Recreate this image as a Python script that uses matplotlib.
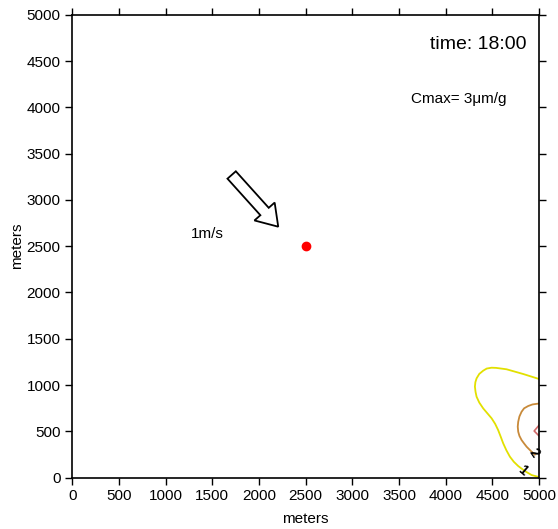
import numpy as np
import matplotlib
matplotlib.use('Agg')
import matplotlib.pyplot as plt
from matplotlib.patches import FancyArrow

plt.rcParams['font.family'] = ['Liberation Sans', 'DejaVu Sans']

# contour paths (meters)
c1_x = [5000, 4830, 4652, 4540, 4492, 4440, 4402, 4360, 4331, 4318, 4313, 4320, 4331, 4360, 4402, 4450, 4492,
        4530, 4562, 4590, 4616, 4650, 4688, 4730, 4777, 4848, 4920, 5000]
c1_y = [1065, 1119, 1170, 1185, 1187, 1178, 1155, 1120, 1072, 1030, 982, 925, 873, 810, 747, 690, 640,
        580, 513, 440, 370, 295, 225, 170, 124, 70, 27, 5]
c2_x = [5000, 4930, 4884, 4840, 4813, 4790, 4777, 4772, 4777, 4790, 4813, 4840, 4867, 4920, 4955]
c2_y = [800, 790, 773, 748, 711, 660, 603, 550, 495, 450, 405, 368, 333, 279, 248]
c3_x = [5000, 4948, 5000]
c3_y = [565, 503, 450]

levels = ['1', '2']
label_x = [4830, 4945]
label_y = [78, 262]
label_rot = [-40, -55]

source_x, source_y = 2500, 2500
wind_tail = (1707, 3270)
wind_tip = (2206, 2711)

fig = plt.figure(figsize=[5.58, 5.29], dpi=100)
ax = fig.add_axes([0.1296, 0.0973, 0.8364, 0.8745])

ax.plot(c1_x, c1_y, color='#e2e000', lw=1.3)
ax.plot(c2_x, c2_y, color='#c88a3a', lw=1.3)
ax.plot(c3_x, c3_y, color='#d26a6a', lw=1.2)
for s, x, y, r in zip(levels, label_x, label_y, label_rot):
    ax.text(x, y, s, fontsize=10, fontweight='bold', rotation=r,
            ha='center', va='center', color='black')

ax.plot(source_x, source_y, 'o', color='red', markersize=6)

dx = wind_tip[0] - wind_tail[0]
dy = wind_tip[1] - wind_tail[1]
ax.add_patch(FancyArrow(wind_tail[0], wind_tail[1], dx, dy, width=120,
                        head_width=290, head_length=220,
                        length_includes_head=True, facecolor='white',
                        edgecolor='black', lw=1.3, zorder=3))
ax.text(1271, 2632, '1m/s', fontsize=11, ha='left', va='center')
ax.text(4870, 4675, 'time: 18:00', fontsize=14, ha='right', va='center')
ax.text(3625, 4092, 'Cmax= 3\u03bcm/g', fontsize=11, ha='left', va='center')

ax.set_xlim(0, 5000)
ax.set_ylim(0, 5000)
ticks = np.arange(0, 5001, 500)
ax.set_xticks(ticks)
ax.set_yticks(ticks)
ax.tick_params(direction='out', length=5, width=1, labelsize=11,
               top=True, right=True)
for sp in ax.spines.values():
    sp.set_linewidth(1.2)
ax.set_xlabel('meters', fontsize=11, labelpad=6)
ax.set_ylabel('meters', fontsize=11, labelpad=2)

fig.savefig('out.png', dpi=100)
